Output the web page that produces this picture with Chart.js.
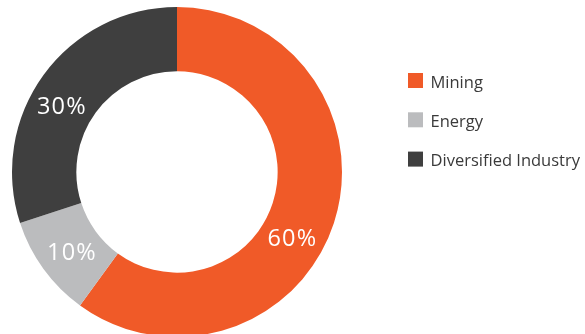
<!DOCTYPE html>
<html>
<head>
<meta charset="utf-8">
<script src="https://cdn.jsdelivr.net/npm/chart.js@4/dist/chart.umd.min.js"></script>
<style>
  html, body { margin: 0; padding: 0; background: #ffffff; overflow: hidden; width: 585px; height: 334px; }
  #wrap { position: absolute; left: 0; top: 0; width: 585px; height: 344px; }
</style>
</head>
<body>
<div id="wrap"><canvas id="c"></canvas></div>
<script>
// ---- data ----
const categories = ['Mining', 'Energy', 'Diversified Industry'];
const shares = [60, 10, 30];
const sliceColors = ['#F05A28', '#BBBCBE', '#3F3F3F'];

// ---- style (label placement along each arc, 0 = start, 1 = end) ----
const labelAlong = [0.556, 0.46, 0.44];

const sliceLabels = {
  id: 'sliceLabels',
  afterDatasetsDraw(chart) {
    const ctx = chart.ctx;
    const meta = chart.getDatasetMeta(0);
    const ds = chart.data.datasets[0];
    const total = ds.data.reduce((a, b) => a + b, 0);
    ctx.save();
    ctx.fillStyle = '#ffffff';
    ctx.font = '400 23.5px "Open Sans"';
    ctx.textAlign = 'center';
    ctx.textBaseline = 'middle';
    try { ctx.letterSpacing = '1.2px'; } catch (e) {}
    meta.data.forEach((arc, i) => {
      const p = arc.getProps(['x', 'y', 'startAngle', 'endAngle', 'innerRadius', 'outerRadius'], true);
      const a = p.startAngle + (p.endAngle - p.startAngle) * labelAlong[i];
      const r = (p.innerRadius + p.outerRadius) / 2;
      const txt = Math.round(ds.data[i] / total * 100) + '%';
      ctx.fillText(txt, p.x + r * Math.cos(a) + 0.5, p.y + r * Math.sin(a) + 1);
    });
    ctx.restore();
  }
};

const sideLegend = {
  id: 'sideLegend',
  afterDraw(chart, args, opts) {
    const ctx = chart.ctx;
    const ds = chart.data.datasets[0];
    ctx.save();
    ctx.font = '400 16.5px "Open Sans"';
    ctx.textBaseline = 'alphabetic';
    ctx.textAlign = 'left';
    chart.data.labels.forEach((lab, i) => {
      const y = opts.top + i * opts.step;
      ctx.fillStyle = ds.backgroundColor[i];
      ctx.fillRect(opts.left, y, opts.box, opts.box);
      ctx.fillStyle = '#3a3a3a';
      ctx.fillText(lab, opts.left + opts.box + opts.gap, y + opts.box - 0.5);
    });
    ctx.restore();
  }
};

new Chart(document.getElementById('c'), {
  type: 'doughnut',
  data: {
    labels: categories,
    datasets: [{
      data: shares,
      backgroundColor: sliceColors,
      borderWidth: 0,
      hoverBorderWidth: 0,
      hoverOffset: 0,
      offset: 0
    }]
  },
  options: {
    responsive: true,
    maintainAspectRatio: false,
    animation: false,
    devicePixelRatio: 1,
    cutout: '61%',
    layout: { padding: { left: 12, top: 7, right: 243, bottom: 7 } },
    plugins: {
      legend: { display: false },
      tooltip: { enabled: false },
      sideLegend: { left: 408, top: 73, step: 39.3, box: 15, gap: 7.5 }
    }
  },
  plugins: [sliceLabels, sideLegend]
});
</script>
</body>
</html>
